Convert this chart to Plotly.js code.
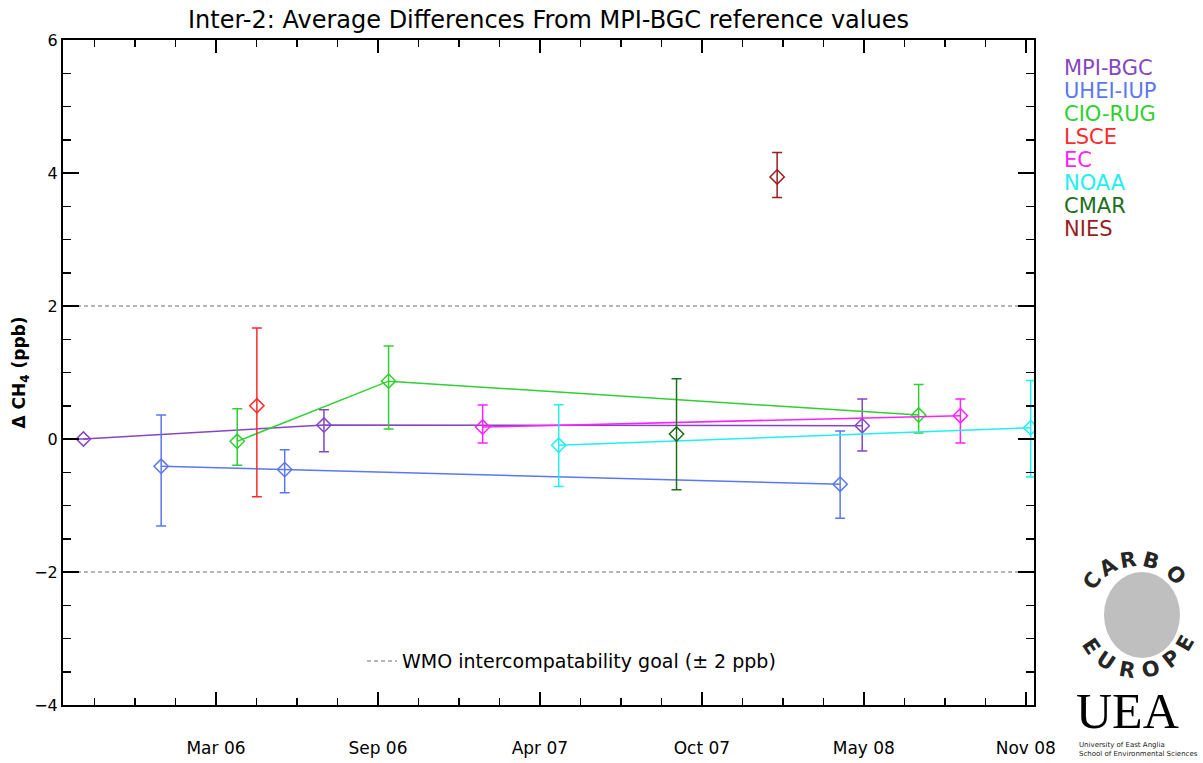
<!DOCTYPE html>
<html>
<head>
<meta charset="utf-8">
<script src="https://cdn.plot.ly/plotly-3.0.1.min.js"></script>
<style>
  html, body { margin: 0; padding: 0; background: #fff; }
  #chart { width: 1203px; height: 763px; }
</style>
</head>
<body>
<div id="chart"></div>
<script>
// Inter-2 CH4 comparison — mean difference to MPI-BGC per lab, with error bars.
// values (ppb)

const MPI_X  = ["2005-09-29", "2006-07-20", "2008-05-08"];
const MPI_Y  = [0.0, 0.21, 0.20];
const MPI_EP = [0.0, 0.23, 0.40];
const MPI_EM = [0.0, 0.40, 0.38];

const UHEI_X  = ["2006-01-02", "2006-06-02", "2008-04-11"];
const UHEI_Y  = [-0.41, -0.46, -0.68];
const UHEI_EP = [0.77, 0.30, 0.80];
const UHEI_EM = [0.90, 0.35, 0.51];

const CIO_X  = ["2006-04-05", "2006-10-07", "2008-07-16"];
const CIO_Y  = [-0.035, 0.87, 0.36];
const CIO_EP = [0.49, 0.53, 0.46];
const CIO_EM = [0.36, 0.72, 0.27];

const LSCE_X  = ["2006-04-29"];
const LSCE_Y  = [0.50];
const LSCE_EP = [1.17];
const LSCE_EM = [1.37];

const EC_X  = ["2007-01-30", "2008-09-05"];
const EC_Y  = [0.18, 0.35];
const EC_EP = [0.33, 0.25];
const EC_EM = [0.24, 0.41];

const NOAA_X  = ["2007-05-03", "2008-11-30"];
const NOAA_Y  = [-0.095, 0.17];
const NOAA_EP = [0.61, 0.71];
const NOAA_EM = [0.62, 0.74];

const CMAR_X  = ["2007-09-24"];
const CMAR_Y  = [0.075];
const CMAR_EP = [0.83];
const CMAR_EM = [0.84];

const NIES_X  = ["2008-01-25"];
const NIES_Y  = [3.94];
const NIES_EP = [0.37];
const NIES_EM = [0.31];

const LAB_NAMES  = ["MPI-BGC", "UHEI-IUP", "CIO-RUG", "LSCE", "EC", "NOAA", "CMAR", "NIES"];
const LAB_COLORS = ["#8646c2", "#5a78f0", "#30d030", "#ff2a2a", "#ff20ff", "#20f0f0", "#1e6e1e", "#981e1e"];

// x ticks: evenly spaced (198 d), labelled by month
const X_TICKS  = ["2006-03-10", "2006-09-24", "2007-04-10", "2007-10-25", "2008-05-10", "2008-11-24"];
const X_LABELS = ["Mar 06", "Sep 06", "Apr 07", "Oct 07", "May 08", "Nov 08"];
const X_RANGE  = ["2005-09-04", "2008-12-04"];
const Y_RANGE  = [-4, 6];

const WMO_GOAL = 2;   // ± ppb

const DAY = 86400000;
const W = 1203, H = 763;
const M = { l: 63, r: 169, t: 40, b: 58 };

const series = [
  [MPI_X, MPI_Y, MPI_EP, MPI_EM],
  [UHEI_X, UHEI_Y, UHEI_EP, UHEI_EM],
  [CIO_X, CIO_Y, CIO_EP, CIO_EM],
  [LSCE_X, LSCE_Y, LSCE_EP, LSCE_EM],
  [EC_X, EC_Y, EC_EP, EC_EM],
  [NOAA_X, NOAA_Y, NOAA_EP, NOAA_EM],
  [CMAR_X, CMAR_Y, CMAR_EP, CMAR_EM],
  [NIES_X, NIES_Y, NIES_EP, NIES_EM],
];

const traces = [];

// WMO goal lines, the only entry in the plotly legend
traces.push({
  type: "scatter", mode: "lines",
  x: [X_RANGE[0], X_RANGE[1], null, X_RANGE[0], X_RANGE[1]],
  y: [WMO_GOAL, WMO_GOAL, null, -WMO_GOAL, -WMO_GOAL],
  line: { color: "#a0a0a0", width: 1.5, dash: "4px,3px" },
  name: "WMO intercompatability goal (± 2 ppb)",
  showlegend: true, hoverinfo: "skip",
});

series.forEach(([x, y, ep, em], i) => {
  traces.push({
    type: "scatter", mode: "lines+markers",
    x, y, name: LAB_NAMES[i], showlegend: false,
    line: { color: LAB_COLORS[i], width: 1.5 },
    marker: { symbol: "diamond-open", size: 11, color: LAB_COLORS[i], line: { width: 1.5, color: LAB_COLORS[i] } },
    error_y: { type: "data", symmetric: false, array: ep, arrayminus: em,
               color: LAB_COLORS[i], thickness: 1.5, width: 5 },
  });
});

const FONT = "DejaVu Sans, Liberation Sans, sans-serif";

// pixel -> paper helpers for the decorations outside the plot
const pw = W - M.l - M.r, ph = H - M.t - M.b;
const px = x => (x - M.l) / pw;
const py = y => (H - M.b - y) / ph;

// coloured lab names on the right, one per line (23 px apart)
const annotations = LAB_NAMES.map((n, i) => ({
  text: n, xref: "paper", yref: "paper",
  x: px(1062), y: py(68 + i * 23), xanchor: "left", yanchor: "middle",
  showarrow: false, font: { family: FONT, size: 21, color: LAB_COLORS[i] },
}));

// CarboEurope logo, letters set on a circle round the map
function arcLetters(str, angles, cx, cy, r, top) {
  return str.split("").map((ch, k) => {
    const a = angles[k] * Math.PI / 180;
    return {
      text: "<b>" + ch + "</b>", xref: "paper", yref: "paper",
      x: px(cx + r * Math.cos(a)), y: py(cy - r * Math.sin(a)),
      xanchor: "center", yanchor: "middle", showarrow: false,
      textangle: top ? 90 - angles[k] : 270 - angles[k],
      font: { family: FONT, size: 21, color: "#262626" },
    };
  });
}
annotations.push(...arcLetters("CARBO", [143, 121, 99, 75, 46], 1137, 615, 56, true));
annotations.push(...arcLetters("EUROPE", [214, 236, 260, 285, 308, 330], 1137, 615, 56, false));

// UEA logo (as text)
annotations.push(
  { text: "UEA", xref: "paper", yref: "paper", x: px(1074), y: py(711), xanchor: "left", yanchor: "middle",
    showarrow: false, font: { family: "Liberation Serif, DejaVu Serif, serif", size: 50, color: "#000" } },
  { text: "University of East Anglia<br>School of Environmental Sciences", xref: "paper", yref: "paper",
    x: px(1077), y: py(749), xanchor: "left", yanchor: "middle", align: "left", showarrow: false,
    font: { family: FONT, size: 7, color: "#222" } }
);

const shapes = [
  // grey map blob behind the CarboEurope letters
  { type: "circle", xref: "paper", yref: "paper", layer: "below",
    x0: px(1104), x1: px(1180), y0: py(572), y1: py(658),
    fillcolor: "#a4a4a4", opacity: 0.7, line: { width: 0 } },
];

const layout = {
  width: W, height: H,
  margin: M,
  paper_bgcolor: "#fff", plot_bgcolor: "#fff",
  font: { family: FONT, size: 16, color: "#000" },
  title: {
    text: "Inter-2: Average Differences From MPI-BGC reference values",
    x: 0.5, xref: "paper", xanchor: "center",
    y: 0.974, yref: "container", yanchor: "middle",
    font: { family: FONT, size: 24, color: "#000" },
  },
  xaxis: {
    type: "date", range: X_RANGE,
    tickmode: "array", tickvals: X_TICKS, ticktext: X_LABELS,
    ticks: "inside", ticklen: 13, tickwidth: 1.5, tickcolor: "#000",
    minor: { tickmode: "linear", tick0: X_TICKS[0], dtick: 49.5 * DAY, ticks: "inside", ticklen: 7, tickwidth: 1.5, tickcolor: "#000", showgrid: false },
    showline: true, linecolor: "#000", linewidth: 2, mirror: "ticks",
    showgrid: false, zeroline: false,
    ticklabelstandoff: 27,
    tickfont: { family: FONT, size: 17 },
  },
  yaxis: {
    range: Y_RANGE, tickmode: "linear", tick0: -4, dtick: 2,
    ticks: "inside", ticklen: 16, tickwidth: 1.5, tickcolor: "#000",
    minor: { dtick: 0.5, ticks: "inside", ticklen: 8, tickwidth: 1.5, tickcolor: "#000", showgrid: false },
    showline: true, linecolor: "#000", linewidth: 2, mirror: "ticks",
    showgrid: false, zeroline: false,
    tickfont: { family: FONT, size: 16 },
    title: { text: "<b>Δ CH<sub>4</sub> (ppb)</b>", standoff: 4, font: { family: FONT, size: 17 } },
  },
  showlegend: true,
  legend: {
    x: 0.308, y: 0.066, xanchor: "left", yanchor: "middle",
    bgcolor: "rgba(0,0,0,0)", borderwidth: 0,
    font: { family: FONT, size: 19, color: "#000" },
  },
  annotations,
  shapes,
};

Plotly.newPlot("chart", traces, layout, { staticPlot: true, displayModeBar: false });
</script>
</body>
</html>
